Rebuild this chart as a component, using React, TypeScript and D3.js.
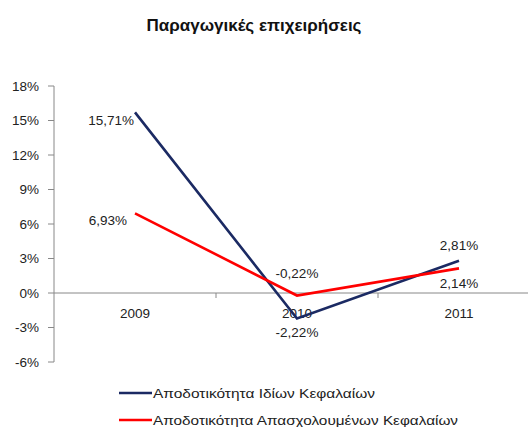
import React from "react";
import * as d3 from "d3";

const title = "Παραγωγικές επιχειρήσεις";
const categories = ["2009", "2010", "2011"];
const seriesNames = ["Αποδοτικότητα Ιδίων Κεφαλαίων", "Αποδοτικότητα Απασχολουμένων Κεφαλαίων"];
const roeValues = [15.71, -2.22, 2.81];
const roceValues = [6.93, -0.22, 2.14];
const yTicks = [-6, -3, 0, 3, 6, 9, 12, 15, 18];
const colors = ["#1b2a63", "#ff0000"];

const W = 528;
const H = 427;
const FONT = "'Liberation Sans', Arial, sans-serif";

const fmt = (v: number) => v.toFixed(2).replace(".", ",") + "%";

export default function App() {
  const x = d3.scaleBand<string>().domain(categories).range([54, 540]).padding(0);
  const y = d3.scaleLinear().domain([-6, 18]).range([362, 86]);
  const cx = (c: string) => (x(c) as number) + x.bandwidth() / 2;

  const line = d3
    .line<number>()
    .x((_, i) => cx(categories[i]))
    .y((v) => y(v));

  const series = [roeValues, roceValues];

  // label placement: [dx, dy, anchor] per series per point
  const placements: [number, number, string][][] = [
    [[-1, 8, "end"], [0, 14, "middle"], [0, -15, "middle"]],
    [[-8, 7, "end"], [0, -22, "middle"], [0, 15, "middle"]],
  ];
  const legendWidths = [222, 305];
  const legendY = [393, 420];

  const zeroY = y(0);

  return (
    <svg
      width={W}
      height={H}
      style={{ position: "absolute", left: 0, top: 0, background: "#fff" }}
      fontFamily={FONT}
    >
      <rect x={0} y={0} width={W} height={H} fill="#fff" />
      <text x={254} y={31} textAnchor="middle" fontSize={17} fontWeight="bold" fill="#111">
        {title}
      </text>

      {/* y axis */}
      <line x1={54} x2={54} y1={y(18)} y2={y(-6)} stroke="#888" strokeWidth={1} />
      {yTicks.map((t) => (
        <g key={t}>
          <line x1={48} x2={54} y1={y(t)} y2={y(t)} stroke="#888" strokeWidth={1} />
          <text x={39} y={y(t)} dy="0.35em" textAnchor="end" fontSize={13.5} fill="#222">
            {t + "%"}
          </text>
        </g>
      ))}

      {/* x axis at zero */}
      <line x1={54} x2={W} y1={zeroY} y2={zeroY} stroke="#888" strokeWidth={1} />
      {categories.map((c, i) => (
        <g key={c}>
          {i > 0 && (
            <line
              x1={x(c) as number}
              x2={x(c) as number}
              y1={zeroY}
              y2={zeroY + 5}
              stroke="#888"
              strokeWidth={1}
            />
          )}
          <text x={cx(c)} y={zeroY + 20} dy="0.35em" textAnchor="middle" fontSize={13.5} fill="#222">
            {c}
          </text>
        </g>
      ))}

      {/* lines */}
      {series.map((s, si) => (
        <path key={si} d={line(s) as string} fill="none" stroke={colors[si]} strokeWidth={2.6} strokeLinejoin="miter" />
      ))}

      {/* data labels */}
      {series.map((s, si) =>
        s.map((v, i) => {
          const [dx, dy, anchor] = placements[si][i];
          return (
            <text
              key={si + "-" + i}
              x={cx(categories[i]) + dx}
              y={y(v) + dy}
              dy="0.35em"
              textAnchor={anchor as any}
              fontSize={13.5}
              fill="#222"
            >
              {fmt(v)}
            </text>
          );
        })
      )}

      {/* legend */}
      {seriesNames.map((n, i) => (
        <g key={n}>
          <line x1={119} x2={152} y1={legendY[i]} y2={legendY[i]} stroke={colors[i]} strokeWidth={2.6} />
          <text
            x={153}
            y={legendY[i]}
            dy="0.35em"
            fontSize={13.5}
            fill="#222"
            textLength={legendWidths[i]}
            lengthAdjust="spacingAndGlyphs"
          >
            {n}
          </text>
        </g>
      ))}
    </svg>
  );
}
